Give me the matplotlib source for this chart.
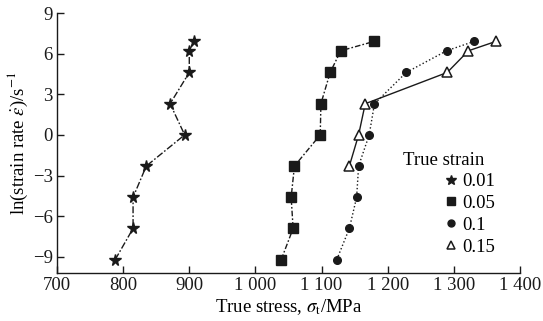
import numpy as np
import matplotlib
matplotlib.use("Agg")
import matplotlib.pyplot as plt
from matplotlib.lines import Line2D

plt.rcParams['font.family'] = ['Liberation Serif', 'DejaVu Serif']
plt.rcParams['mathtext.fontset'] = 'stix'

# ln(strain rate) levels
rates = [-9.21, -6.91, -4.61, -2.30, 0.0, 2.30, 4.61, 6.21, 6.91]
rates15 = [-2.30, 0.0, 2.30, 4.61, 6.21, 6.91]

stress_001 = [788, 815, 815, 835, 893, 871, 900, 900, 907]
stress_005 = [1039, 1057, 1054, 1059, 1098, 1099, 1113, 1129, 1180]
stress_01 = [1123, 1142, 1153, 1156, 1172, 1180, 1228, 1289, 1331]
stress_015 = [1142, 1156, 1166, 1290, 1322, 1364]

labels = ['0.01', '0.05', '0.1', '0.15']
xticks = [700, 800, 900, 1000, 1100, 1200, 1300, 1400]
xticklabels = ['700', '800', '900', '1 000', '1 100', '1 200', '1 300', '1 400']
yticks = [-9, -6, -3, 0, 3, 6, 9]

fig = plt.figure(figsize=(5.43, 3.21), dpi=100)
ax = fig.add_axes([57/543, 1-273/321, 463/543, 260/321])

ax.plot(stress_001, rates, color='#1a1a1a', lw=1.0, dashes=(5, 1.5, 1.2, 1.5),
        marker='*', ms=8.5, mfc='#1a1a1a', mec='#1a1a1a')
ax.plot(stress_005, rates, color='#1a1a1a', lw=1.0, dashes=(4, 1.5, 1.2, 1.5),
        marker='s', ms=6.5, mfc='#1a1a1a', mec='#1a1a1a')
ax.plot(stress_01, rates, color='#1a1a1a', lw=1.0, linestyle=':',
        marker='o', ms=5.5, mfc='#1a1a1a', mec='#1a1a1a')
ax.plot(stress_015, rates15, color='#1a1a1a', lw=1.0, linestyle='-',
        marker='^', ms=7, mfc='white', mec='#1a1a1a', mew=1.1)

ax.set_xlim(700, 1400)
ax.set_ylim(-10.2, 9)
ax.set_xticks(xticks)
ax.set_xticklabels(xticklabels)
ax.set_yticks(yticks)
ax.set_yticklabels([str(t).replace('-', '\u2212') for t in yticks])
for s in ['top', 'right']:
    ax.spines[s].set_visible(False)
for s in ['left', 'bottom']:
    ax.spines[s].set_linewidth(1.0)
    ax.spines[s].set_color('#1a1a1a')
ax.tick_params(direction='in', length=5, width=1.0, labelsize=13.5, colors='#1a1a1a', pad=3)

ax.set_xlabel(r'True stress, $\sigma_{\rm t}$/MPa', fontsize=13.5, labelpad=2)
ax.set_ylabel(r'ln(strain rate $\dot{\varepsilon}$)/s$^{-1}$', fontsize=13.5, labelpad=2)

handles = [
    Line2D([], [], ls='none', marker='*', ms=7, color='#1a1a1a'),
    Line2D([], [], ls='none', marker='s', ms=5.5, color='#1a1a1a'),
    Line2D([], [], ls='none', marker='o', ms=5, color='#1a1a1a'),
    Line2D([], [], ls='none', marker='^', ms=6, mfc='white', mec='#1a1a1a', mew=1.1),
]
fig.text(403/543, 1-160/321, 'True strain', fontsize=13.5, va='center', ha='left')
leg = ax.legend(handles, labels, loc='upper left', bbox_to_anchor=(445/543, 1-173/321),
                bbox_transform=fig.transFigure, frameon=False, fontsize=13.5,
                handlelength=0.6, handletextpad=0.3, labelspacing=0.25,
                borderpad=0, borderaxespad=0)

fig.savefig('out.png', dpi=100)
